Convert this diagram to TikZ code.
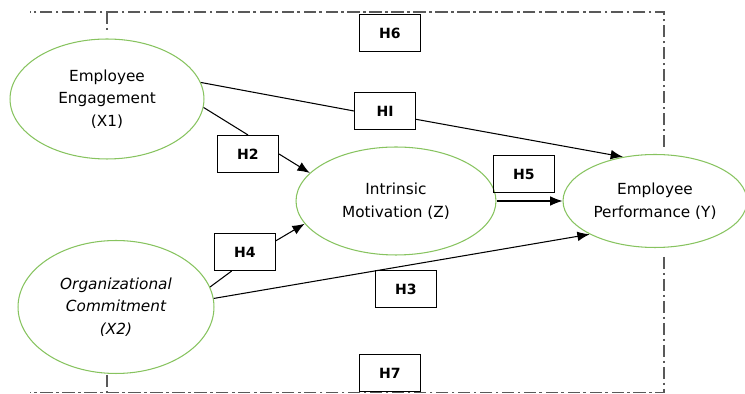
\documentclass[tikz,border=0pt]{standalone}
\usepackage{fontspec}
\setmainfont{DejaVu Sans}
\usetikzlibrary{shapes.geometric, arrows.meta}
\definecolor{ovalgreen}{RGB}{135,195,95}
\tikzstyle{link} = [line width=0.6pt,->,>={Latex[length=7pt,width=5.5pt]}]
\tikzstyle{construct} = [ellipse, draw=ovalgreen, line width=0.6pt, inner sep=0pt, align=center, font=\fontsize{8.7}{12.8}\selectfont]
\tikzstyle{hyp} = [rectangle, draw, line width=0.6pt, minimum width=1.22cm, minimum height=0.74cm, font=\fontsize{8}{10}\selectfont\bfseries]
\tikzstyle{frame} = [black!65, line width=0.6pt, dash pattern=on 7pt off 2pt on 1.5pt off 2pt]

\begin{document}
\begin{tikzpicture}[x=0.02cm, y=-0.02cm]
\useasboundingbox (0,0) rectangle (745,394);

% outer boundary of the model
\draw[frame] (664,147) -- (664,12) -- (30,12);
\draw[frame] (664,257) -- (664,392.5) -- (30,392.5);
\draw[frame] (107,12) -- (107,30);
\draw[frame] (107,375) -- (107,392.5);

% constructs
\node (ee) [construct, minimum width=3.88cm, minimum height=2.4cm] at (107,99) {Employee\\Engagement\\(X1)};
\node (oc) [construct, minimum width=3.92cm, minimum height=2.66cm] at (116,307) {\itshape Organizational\\\itshape Commitment\\\itshape (X2)};
\node (im) [construct, minimum width=4.0cm, minimum height=2.16cm] at (396,201) {Intrinsic\\Motivation (Z)};
\node (ep) [construct, minimum width=3.68cm, minimum height=1.86cm] at (655,201) {Employee\\Performance (Y)};

% hypotheses
\node (h6) [hyp] at (390,33) {H6};
\node (h1) [hyp] at (385,111) {HI};
\node (h2) [hyp] at (248,154) {H2};
\node (h5) [hyp] at (524,174) {H5};
\node (h4) [hyp] at (245,252) {H4};
\node (h3) [hyp] at (406,289) {H3};
\node (h7) [hyp] at (390,373) {H7};

\draw[line width=0.6pt] (ee.10) -- (h1.west);
\draw[link] (h1.-15) -- (ep.126);
\draw[line width=0.6pt] (ee.-5) -- (h2.north);
\draw[link] (h2.east) -- (im.162);
\draw[line width=0.6pt] (oc.12) -- (h4.-125);
\draw[link] (h4.20) -- (im.194);
\draw[link] (oc.5) -- (ep.207);
\draw[link] (im.east) -- (ep.west);

\end{tikzpicture}
\end{document}
